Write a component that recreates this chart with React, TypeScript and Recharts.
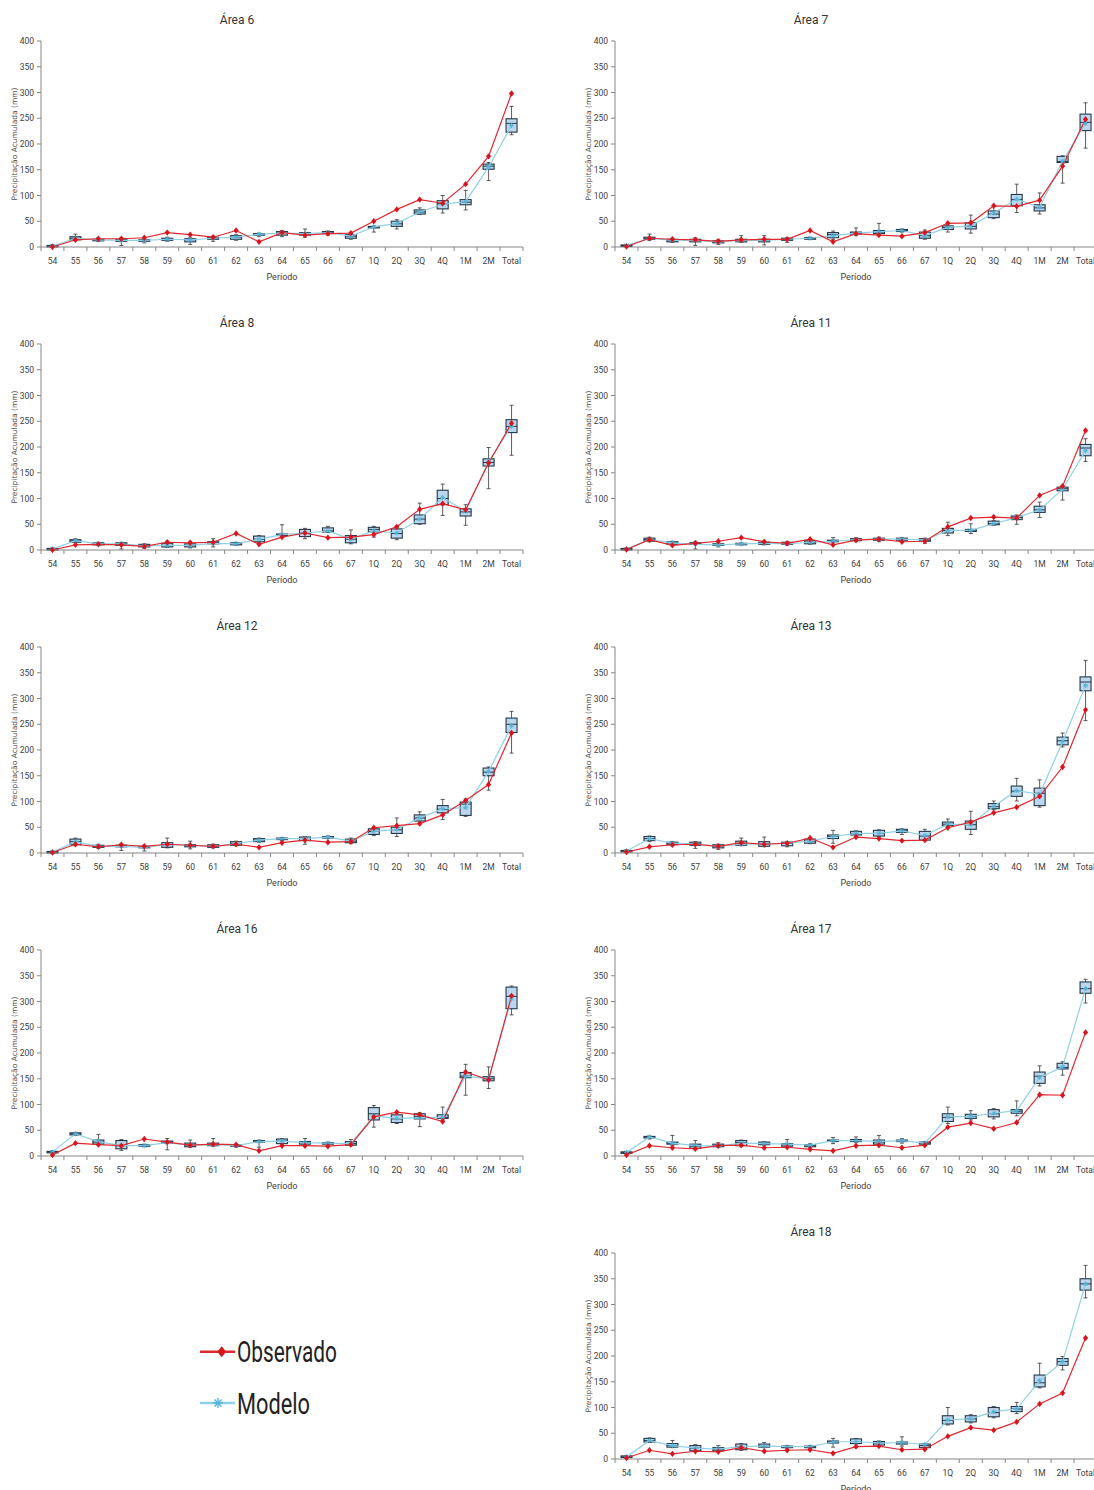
import React from "react";
import { ComposedChart, Bar, Line, XAxis, YAxis } from "recharts";

const FONT = "'Liberation Sans Narrow', Roboto, 'Liberation Sans', sans-serif";
const BAND = 482 / 21;

const categories = ["54", "55", "56", "57", "58", "59", "60", "61", "62", "63", "64", "65", "66", "67", "1Q", "2Q", "3Q", "4Q", "1M", "2M", "Total"];
const yTicks = [0, 50, 100, 150, 200, 250, 300, 350, 400];

// box = [min, q1, median, q3, max] of the model ensemble
const obs6 = [0, 14, 16, 16, 18, 28, 24, 19, 32, 10, 28, 23, 26, 27, 50, 73, 92, 85, 122, 176, 298];
const mean6 = [2, 17, 14, 13, 13, 15, 14, 17, 19, 25, 27, 26, 28, 21, 39, 46, 68, 83, 88, 155, 236];
const box6 = [
  [0, 1, 2, 3, 5], [12, 14, 17, 20, 25], [11, 12, 14, 15, 18], [3, 11, 13, 15, 18], [8, 12, 13, 14, 18],
  [11, 13, 15, 17, 19], [5, 10, 14, 16, 18], [11, 15, 17, 19, 21], [13, 15, 19, 22, 24], [20, 23, 25, 26, 27],
  [20, 23, 27, 30, 32], [19, 23, 26, 28, 35], [23, 26, 28, 30, 31], [15, 17, 21, 24, 27], [29, 37, 39, 40, 41],
  [35, 40, 45, 50, 53], [63, 64, 68, 72, 76], [66, 74, 84, 90, 100], [72, 82, 87, 92, 110], [129, 151, 157, 161, 164],
  [218, 223, 240, 249, 273],
];

const obs7 = [1, 17, 15, 14, 11, 14, 15, 15, 32, 10, 26, 23, 21, 28, 46, 47, 80, 79, 91, 157, 248];
const mean7 = [3, 17, 13, 13, 10, 13, 13, 15, 17, 22, 27, 30, 32, 22, 38, 41, 66, 93, 77, 167, 240];
const box7 = [
  [1, 2, 3, 4, 5], [13, 15, 17, 19, 25], [9, 10, 12, 15, 17], [3, 10, 13, 15, 18], [5, 8, 10, 12, 15],
  [9, 10, 13, 15, 22], [4, 10, 13, 15, 22], [9, 13, 15, 17, 18], [15, 16, 17, 18, 19], [15, 18, 24, 28, 31],
  [22, 25, 27, 29, 37], [24, 26, 29, 32, 46], [29, 30, 32, 34, 35], [15, 17, 22, 29, 33], [29, 34, 38, 41, 42],
  [27, 35, 40, 47, 62], [55, 57, 64, 70, 80], [67, 80, 92, 102, 122], [64, 70, 76, 82, 105], [124, 164, 166, 176, 177],
  [192, 226, 242, 258, 280],
];

const obs8 = [0, 10, 11, 10, 7, 15, 14, 15, 32, 11, 25, 33, 24, 25, 30, 45, 79, 90, 78, 169, 246];
const mean8 = [2, 18, 12, 12, 8, 9, 9, 13, 12, 21, 30, 33, 37, 21, 37, 33, 60, 102, 75, 172, 240];
const box8 = [
  [0, 1, 2, 3, 4], [14, 15, 18, 20, 22], [9, 10, 12, 14, 15], [2, 9, 12, 14, 15], [3, 6, 9, 11, 12],
  [5, 6, 9, 13, 17], [4, 6, 9, 12, 17], [6, 12, 14, 16, 22], [9, 10, 12, 14, 15], [15, 16, 21, 27, 28],
  [27, 28, 30, 31, 49], [22, 26, 33, 40, 42], [34, 35, 37, 43, 46], [12, 14, 21, 28, 39], [25, 35, 40, 44, 46],
  [20, 23, 32, 41, 47], [50, 51, 60, 68, 91], [67, 88, 100, 116, 128], [48, 66, 74, 80, 88], [119, 163, 170, 177, 199],
  [184, 228, 240, 253, 281],
];

const obs11 = [1, 20, 9, 13, 17, 24, 16, 13, 21, 10, 19, 21, 16, 17, 45, 62, 64, 62, 106, 124, 232];
const mean11 = [2, 20, 14, 11, 10, 12, 13, 12, 15, 17, 20, 21, 21, 19, 38, 38, 51, 63, 78, 118, 193];
const box11 = [
  [0, 1, 2, 3, 4], [16, 17, 20, 23, 25], [10, 11, 14, 16, 17], [2, 11, 12, 14, 17], [6, 9, 10, 12, 15],
  [10, 11, 12, 13, 14], [10, 11, 13, 15, 17], [9, 11, 12, 15, 16], [11, 12, 15, 18, 20], [15, 16, 17, 19, 24],
  [17, 18, 20, 22, 24], [16, 19, 21, 23, 25], [17, 19, 21, 23, 24], [13, 17, 19, 22, 23], [28, 33, 38, 42, 54],
  [32, 36, 37, 40, 51], [48, 49, 51, 56, 57], [50, 59, 63, 66, 68], [63, 73, 78, 85, 93], [97, 115, 119, 122, 125],
  [172, 183, 198, 205, 216],
];

const obs12 = [1, 17, 12, 16, 13, 17, 15, 13, 17, 11, 20, 25, 21, 22, 49, 53, 57, 74, 102, 133, 233];
const mean12 = [2, 22, 13, 13, 11, 16, 15, 13, 18, 25, 28, 28, 31, 23, 42, 46, 68, 86, 88, 158, 247];
const box12 = [
  [0, 1, 2, 3, 4], [14, 16, 22, 27, 29], [9, 11, 13, 15, 17], [5, 12, 13, 15, 18], [4, 10, 11, 13, 15],
  [10, 11, 16, 20, 29], [8, 12, 15, 16, 23], [10, 11, 13, 16, 17], [14, 15, 18, 22, 23], [21, 22, 25, 28, 29],
  [24, 26, 28, 29, 30], [17, 24, 28, 31, 32], [28, 29, 31, 32, 33], [18, 20, 23, 27, 29], [34, 36, 42, 47, 49],
  [32, 38, 45, 50, 68], [60, 62, 68, 74, 80], [65, 78, 85, 92, 104], [71, 73, 95, 99, 105], [122, 150, 157, 165, 167],
  [194, 234, 250, 262, 275],
];

const obs13 = [2, 12, 16, 17, 13, 20, 17, 19, 29, 11, 31, 28, 24, 25, 49, 60, 78, 89, 110, 167, 278];
const mean13 = [4, 28, 19, 18, 13, 17, 17, 19, 23, 32, 38, 38, 43, 34, 56, 55, 91, 121, 114, 216, 325];
const box13 = [
  [2, 3, 4, 5, 6], [22, 24, 28, 32, 33], [14, 16, 19, 21, 22], [9, 15, 18, 21, 22], [7, 10, 13, 16, 17],
  [14, 15, 18, 23, 29], [12, 13, 17, 22, 31], [12, 14, 19, 21, 22], [18, 19, 23, 27, 28], [19, 28, 32, 35, 44],
  [33, 35, 38, 42, 43], [32, 33, 38, 44, 45], [36, 40, 43, 46, 47], [24, 25, 33, 42, 46], [51, 53, 56, 60, 66],
  [36, 46, 55, 62, 81], [84, 86, 90, 96, 101], [101, 110, 120, 130, 145], [89, 92, 116, 126, 142], [206, 210, 218, 225, 233],
  [257, 315, 332, 342, 374],
];

const obs16 = [2, 25, 22, 20, 33, 27, 21, 23, 22, 10, 20, 20, 19, 22, 76, 85, 80, 67, 163, 148, 311];
const mean16 = [8, 43, 28, 20, 20, 26, 21, 22, 20, 28, 29, 26, 25, 24, 78, 73, 74, 75, 155, 150, 305];
const box16 = [
  [6, 7, 8, 9, 10], [40, 41, 43, 45, 46], [22, 23, 27, 31, 42], [11, 14, 20, 30, 32], [18, 19, 20, 22, 23],
  [12, 25, 27, 29, 34], [17, 18, 21, 25, 31], [19, 20, 22, 25, 34], [17, 19, 20, 22, 23], [17, 27, 29, 30, 31],
  [22, 24, 29, 33, 34], [20, 23, 26, 28, 34], [22, 23, 25, 26, 27], [20, 21, 24, 28, 32], [56, 70, 82, 94, 98],
  [63, 65, 72, 80, 84], [57, 72, 77, 82, 84], [70, 73, 75, 80, 95], [118, 152, 155, 162, 178], [131, 146, 150, 154, 173],
  [274, 286, 310, 328, 330],
];

const obs17 = [2, 20, 16, 14, 20, 21, 16, 17, 13, 10, 20, 21, 16, 21, 56, 64, 53, 65, 119, 118, 240];
const mean17 = [7, 37, 25, 20, 19, 25, 24, 23, 21, 30, 30, 28, 30, 25, 76, 77, 83, 88, 152, 173, 325];
const box17 = [
  [5, 6, 7, 8, 9], [33, 35, 37, 38, 39], [20, 23, 25, 27, 40], [14, 15, 19, 23, 30], [17, 18, 20, 23, 26],
  [19, 20, 26, 30, 31], [21, 22, 24, 27, 28], [17, 19, 22, 24, 32], [17, 18, 21, 22, 24], [24, 29, 30, 31, 36],
  [26, 28, 30, 32, 37], [22, 23, 27, 31, 40], [25, 28, 30, 31, 34], [22, 23, 25, 27, 28], [63, 67, 75, 82, 95],
  [70, 73, 77, 81, 88], [72, 76, 82, 90, 92], [78, 83, 87, 90, 107], [136, 141, 155, 163, 175], [157, 169, 172, 180, 183],
  [297, 316, 325, 338, 343],
];

const obs18 = [2, 17, 10, 15, 14, 22, 15, 17, 18, 11, 24, 25, 18, 19, 44, 61, 56, 72, 107, 128, 235];
const mean18 = [4, 36, 26, 21, 19, 24, 25, 24, 24, 33, 34, 31, 32, 28, 76, 78, 92, 97, 152, 189, 340];
const box18 = [
  [2, 3, 4, 6, 7], [32, 33, 36, 40, 41], [22, 23, 26, 30, 36], [15, 16, 21, 26, 28], [15, 16, 19, 22, 26],
  [17, 18, 24, 29, 30], [22, 23, 25, 29, 32], [21, 22, 24, 25, 26], [21, 22, 24, 25, 26], [23, 31, 33, 35, 40],
  [29, 30, 34, 39, 40], [26, 27, 31, 34, 35], [25, 29, 31, 33, 43], [21, 22, 26, 29, 30], [66, 68, 75, 84, 100],
  [70, 72, 78, 84, 86], [80, 82, 90, 100, 102], [88, 92, 97, 102, 110], [138, 140, 148, 163, 186], [173, 182, 189, 195, 199],
  [313, 328, 340, 350, 376],
];

const panels = [
  { title: "Área 6", col: 0, row: 0, obs: obs6, mean: mean6, box: box6 },
  { title: "Área 7", col: 1, row: 0, obs: obs7, mean: mean7, box: box7 },
  { title: "Área 8", col: 0, row: 1, obs: obs8, mean: mean8, box: box8 },
  { title: "Área 11", col: 1, row: 1, obs: obs11, mean: mean11, box: box11 },
  { title: "Área 12", col: 0, row: 2, obs: obs12, mean: mean12, box: box12 },
  { title: "Área 13", col: 1, row: 2, obs: obs13, mean: mean13, box: box13 },
  { title: "Área 16", col: 0, row: 3, obs: obs16, mean: mean16, box: box16 },
  { title: "Área 17", col: 1, row: 3, obs: obs17, mean: mean17, box: box17 },
  { title: "Área 18", col: 1, row: 4, obs: obs18, mean: mean18, box: box18 },
];

const RED = "#e0282e";
const BLUE = "#8fd0e6";

// whisker bar spans [min, max]; box and median are placed along the same scale
function BoxShape(props: any) {
  const { x, y, width, height, payload } = props;
  if (x == null || y == null || !payload) return <g />;
  const top = Math.min(y, y + height);
  const bot = Math.max(y, y + height);
  const [lo, q1, med, q3, hi] = payload.box;
  const k = (bot - top) / (hi - lo || 1);
  const py = (v: number) => bot - (v - lo) * k;
  const cx = x + width / 2;
  return (
    <g>
      <line x1={cx} x2={cx} y1={py(hi)} y2={py(lo)} stroke="#333" strokeWidth={0.8} />
      <line x1={cx - 2} x2={cx + 2} y1={py(hi)} y2={py(hi)} stroke="#333" strokeWidth={0.8} />
      <line x1={cx - 2} x2={cx + 2} y1={py(lo)} y2={py(lo)} stroke="#333" strokeWidth={0.8} />
      <rect x={x} y={py(q3)} width={width} height={Math.max(py(q1) - py(q3), 1.5)} fill="#bcd6ee" stroke="#24384a" strokeWidth={1.1} />
      <line x1={x} x2={x + width} y1={py(med)} y2={py(med)} stroke="#24384a" strokeWidth={1} />
    </g>
  );
}

function DiamondDot(props: any) {
  const { cx, cy } = props;
  if (cx == null || cy == null) return <g />;
  return <path d={`M${cx},${cy - 3.2}L${cx + 2.6},${cy}L${cx},${cy + 3.2}L${cx - 2.6},${cy}Z`} fill="#d9141c" />;
}

function StarDot(props: any) {
  const { cx, cy } = props;
  if (cx == null || cy == null) return <g />;
  return (
    <g stroke="#4fb4d8" strokeWidth={0.9}>
      <line x1={cx - 2.5} x2={cx + 2.5} y1={cy} y2={cy} />
      <line x1={cx} x2={cx} y1={cy - 2.5} y2={cy + 2.5} />
      <line x1={cx - 1.8} x2={cx + 1.8} y1={cy - 1.8} y2={cy + 1.8} />
      <line x1={cx - 1.8} x2={cx + 1.8} y1={cy + 1.8} y2={cy - 1.8} />
    </g>
  );
}

function CatTick(props: any) {
  const { x, y, payload, index } = props;
  const axisY = y - 11;
  return (
    <g>
      <line x1={x - BAND / 2} x2={x - BAND / 2} y1={axisY} y2={axisY + 4} stroke="#868686" />
      {index === categories.length - 1 && (
        <line x1={x + BAND / 2} x2={x + BAND / 2} y1={axisY} y2={axisY + 4} stroke="#868686" />
      )}
      <text x={x} y={y} dy="0.71em" textAnchor="middle" fontSize={8.5} fill="#404040" fontFamily={FONT}>
        {payload.value}
      </text>
    </g>
  );
}

function Panel({ title, left, top, obs, mean, box }: any) {
  const rows = categories.map((c, i) => ({ cat: c, obs: obs[i], mean: mean[i], box: box[i] }));
  return (
    <div style={{ position: "absolute", left, top, width: 530, height: 290 }}>
      <svg width={530} height={290} style={{ position: "absolute", left: 0, top: 0 }}>
        <text x={237} y={24} textAnchor="middle" fontSize={12} fill="#333" fontFamily={FONT}>{title}</text>
        <text transform="translate(17,144) rotate(-90)" textAnchor="middle" fontSize={7.5} fill="#505050" fontFamily="'DejaVu Sans', sans-serif">
          Precipitação Acumulada (mm)
        </text>
        <text x={282} y={280} textAnchor="middle" fontSize={9} fill="#404040" fontFamily={FONT}>Período</text>
      </svg>
      <div style={{ position: "absolute", left: 0, top: 0 }}>
        <ComposedChart width={530} height={290} data={rows} margin={{ top: 41, right: 7, bottom: 13, left: 0 }}>
          <XAxis dataKey="cat" interval={0} tickSize={0} tickMargin={11} tick={<CatTick />} axisLine={{ stroke: "#868686" }} />
          <YAxis
            domain={[0, 400]}
            ticks={yTicks}
            width={41}
            tickSize={4}
            tickMargin={3}
            tick={{ fontSize: 8.5, fill: "#404040", fontFamily: FONT }}
            tickLine={{ stroke: "#868686" }}
            axisLine={{ stroke: "#868686" }}
          />
          <Line dataKey="mean" stroke={BLUE} strokeWidth={1.2} dot={<StarDot />} activeDot={false} isAnimationActive={false} />
          <Bar dataKey={(d: any) => [d.box[0], d.box[4]]} barSize={11} shape={<BoxShape />} isAnimationActive={false} />
          <Line dataKey="obs" stroke={RED} strokeWidth={1.2} dot={<DiamondDot />} activeDot={false} isAnimationActive={false} />
        </ComposedChart>
      </div>
    </div>
  );
}

export default function App() {
  return (
    <div style={{ position: "absolute", left: 0, top: 0, width: 1094, height: 1490, overflow: "hidden", background: "#fff" }}>
      {panels.map((p) => (
        <Panel key={p.title} title={p.title} left={p.col * 574} top={p.row * 303} obs={p.obs} mean={p.mean} box={p.box} />
      ))}
      <svg width={200} height={110} style={{ position: "absolute", left: 190, top: 1320 }}>
        <line x1={10} x2={45} y1={31.7} y2={31.7} stroke={RED} strokeWidth={2.5} />
        <path d="M31.7,26.2L36,31.7L31.7,37.2L27.4,31.7Z" fill="#d9141c" />
        <text x={47} y={41.7} fontSize={30} fill="#222" fontFamily={FONT} textLength={100} lengthAdjust="spacingAndGlyphs">Observado</text>
        <line x1={10} x2={45} y1={83} y2={83} stroke={BLUE} strokeWidth={2.5} />
        <g stroke="#4fb4d8" strokeWidth={1.4}>
          <line x1={23} x2={33} y1={83} y2={83} />
          <line x1={28} x2={28} y1={78} y2={88} />
          <line x1={24.5} x2={31.5} y1={79.5} y2={86.5} />
          <line x1={24.5} x2={31.5} y1={86.5} y2={79.5} />
        </g>
        <text x={47} y={94} fontSize={30} fill="#222" fontFamily={FONT} textLength={73} lengthAdjust="spacingAndGlyphs">Modelo</text>
      </svg>
    </div>
  );
}
